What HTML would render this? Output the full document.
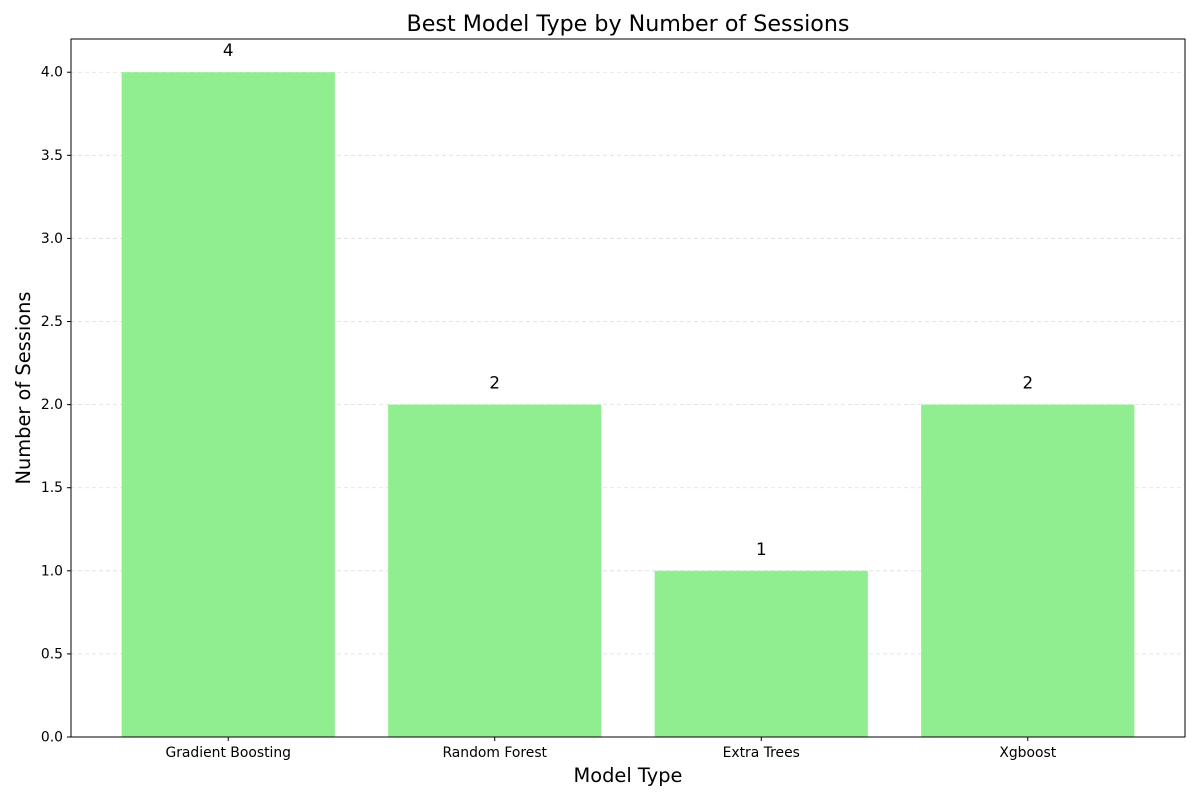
<!DOCTYPE html>
<html><head><meta charset="utf-8"><style>
body{margin:0;background:#fff;font-family:"DejaVu Sans","Liberation Sans",sans-serif;}
</style></head><body>
<svg id="chart" width="1200" height="800" xmlns="http://www.w3.org/2000/svg" font-family="DejaVu Sans, Liberation Sans, sans-serif">
<text x="628" y="31" font-size="22.2" text-anchor="middle" fill="#000">Best Model Type by Number of Sessions</text>
<text x="628" y="782" font-size="19.4" text-anchor="middle" fill="#000">Model Type</text>
<text x="30" y="388" font-size="19.4" text-anchor="middle" fill="#000" transform="rotate(-90 30 388)">Number of Sessions</text>
<g id="grid"></g><g id="bars"></g><g id="ticks"></g>
<rect x="71" y="39" width="1114" height="698" fill="none" stroke="#000" stroke-width="1"/>
</svg>
<script>
const categories = ["Gradient Boosting","Random Forest","Extra Trees","Xgboost"];
const values = [4,2,1,2];
const yTicks = [0,0.5,1,1.5,2,2.5,3,3.5,4];
const yTickLabels = ["0.0","0.5","1.0","1.5","2.0","2.5","3.0","3.5","4.0"];
const L=71,R=1185,T=39,B=737,yMax=4.2,xMin=-0.59,xMax=3.59;
const ns="http://www.w3.org/2000/svg";
function y(v){return B-(v/yMax)*(B-T);}
function x(i){return L+(i-xMin)/(xMax-xMin)*(R-L);}
function mk(tag,attrs,parent){const e=document.createElementNS(ns,tag);for(const k in attrs)e.setAttribute(k,attrs[k]);document.getElementById(parent).appendChild(e);return e;}
yTicks.forEach((t,i)=>{
  if(t>0){const g=mk("line",{x1:L,x2:R,y1:y(t),y2:y(t),stroke:"#ddd","stroke-dasharray":"4,3","stroke-width":0.8},"grid");
  
  }
  const tk=mk("line",{x1:L-4,x2:L,y1:y(t),y2:y(t),stroke:"#000"},"ticks");
  
  
  const lb=mk("text",{x:L-8,y:y(t)+4.5,"font-size":13.9,"text-anchor":"end"},"ticks");lb.textContent=yTickLabels[i];
  
  
});
const bw=0.8*(R-L)/(xMax-xMin);
categories.forEach((c,i)=>{
  const cx=x(i);
  const r=mk("rect",{x:cx-bw/2,y:y(values[i]),width:bw,height:B-y(values[i]),fill:"#90ee90"},"bars");
  
  
  const v=mk("text",{x:cx,y:y(values[i])-16,"font-size":16.7,"text-anchor":"middle"},"bars");v.textContent=values[i];
  
  
  const tk=mk("line",{x1:cx,x2:cx,y1:B,y2:B+4,stroke:"#000"},"ticks");
  
  
  const lb=mk("text",{x:cx,y:B+20,"font-size":13.9,"text-anchor":"middle"},"ticks");lb.textContent=c;
  
  
});
</script>
</body></html>
